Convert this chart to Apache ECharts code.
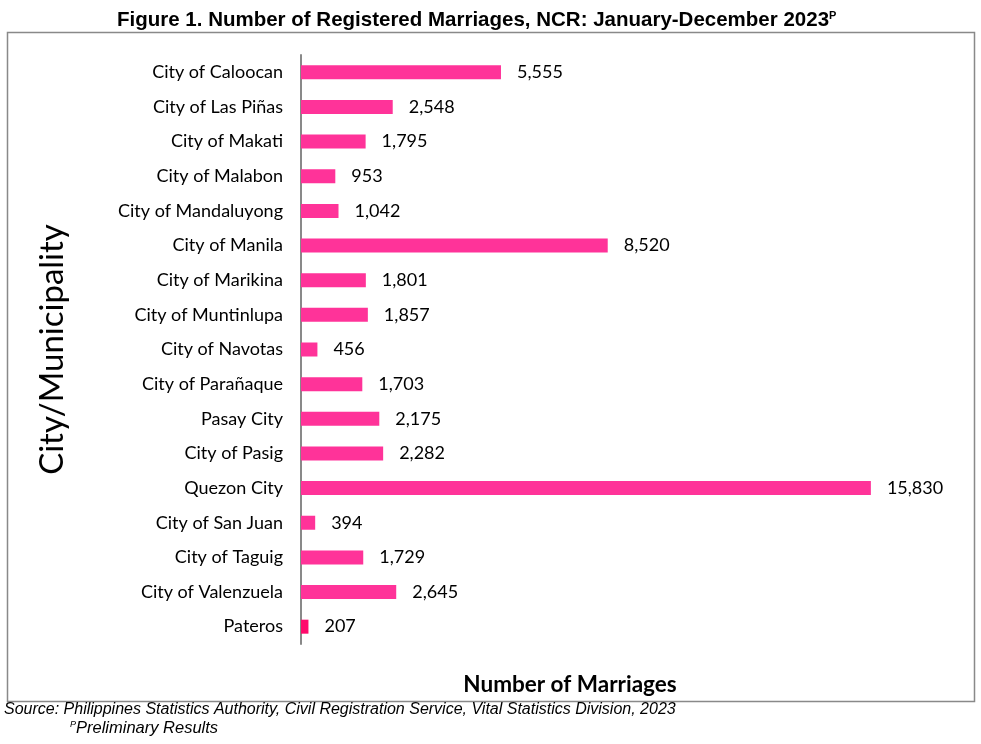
<!DOCTYPE html>
<html><head><meta charset="utf-8">
<script src="https://cdn.jsdelivr.net/npm/echarts@6/dist/echarts.min.js"></script>
<style>html,body{margin:0;padding:0;background:#fff}#c{width:981px;height:744px}</style>
</head><body><div id="c"></div>
<script>
const categories = ["City of Caloocan","City of Las Piñas","City of Makati","City of Malabon","City of Mandaluyong","City of Manila","City of Marikina","City of Muntinlupa","City of Navotas","City of Parañaque","Pasay City","City of Pasig","Quezon City","City of San Juan","City of Taguig","City of Valenzuela","Pateros"];
const marriages = [5555,2548,1795,953,1042,8520,1801,1857,456,1703,2175,2282,15830,394,1729,2645,207];
const highlightCategory = "Pateros";

const chart = echarts.init(document.getElementById('c'));
chart.setOption({
  animation:false,
  backgroundColor:'#fff',
  title:{
    text:'{t|Figure 1. Number of Registered Marriages, NCR: January-December 2023}{s|P}',
    left:112, top:5,
    textStyle:{rich:{
      t:{fontFamily:'Liberation Sans Narrow, Liberation Sans, Arial',fontWeight:'bold',fontSize:20.5,color:'#000'},
      s:{fontFamily:'Liberation Sans Narrow, Liberation Sans, Arial',fontWeight:'bold',fontSize:11,color:'#000',verticalAlign:'top',padding:[0,0,10,0]}
    }}
  },
  graphic:[
    {type:'rect',shape:{x:7.5,y:32.5,width:967,height:669},style:{fill:'none',stroke:'#898989',lineWidth:1.5},silent:true,z:-1},
    {type:'text',x:570,y:685,style:{text:'Number of Marriages',align:'center',verticalAlign:'middle',font:'bold 22.5px Lato, "Open Sans", sans-serif',fill:'#000'}},
    {type:'text',left:4,top:702,style:{text:'Source: Philippines Statistics Authority, Civil Registration Service, Vital Statistics Division, 2023',font:'italic 16px "Liberation Sans Narrow", "Liberation Sans", Arial',fill:'#000'}},
    {type:'text',left:70,top:720,style:{text:'{s|P}{t|Preliminary Results}',rich:{
      s:{font:'italic 9px "Liberation Sans Narrow", "Liberation Sans", Arial',fill:'#000',verticalAlign:'top'},
      t:{font:'italic 16.5px "Liberation Sans Narrow", "Liberation Sans", Arial',fill:'#000'}
    }}}
  ],
  grid:{left:301,top:55,width:648,height:589},
  xAxis:{type:'value',min:0,max:18000,show:true,
    axisLine:{show:false},axisTick:{show:false},axisLabel:{show:false},splitLine:{show:false}
  },
  yAxis:{type:'category',data:categories,inverse:true,
    axisLine:{show:true,lineStyle:{color:'#898989',width:2}},
    axisTick:{show:false},
    axisLabel:{fontFamily:'Lato, Open Sans, sans-serif',fontSize:18,color:'#000',margin:18},
    name:'City/Municipality',nameLocation:'middle',nameGap:232,nameRotate:90,
    nameTextStyle:{fontFamily:'Lato, Open Sans, sans-serif',fontSize:33,color:'#000'}
  },
  series:[{type:'bar',barWidth:14,
    data:marriages.map((v,i)=>({value:v,itemStyle:{color:categories[i]===highlightCategory?'#FF0A6C':'#FF3399'}})),
    label:{show:true,position:'right',distance:16,fontFamily:'Lato, Open Sans, sans-serif',fontSize:18,color:'#000',
      formatter:p=>p.value.toLocaleString('en-US')}
  }]
});
</script></body></html>
